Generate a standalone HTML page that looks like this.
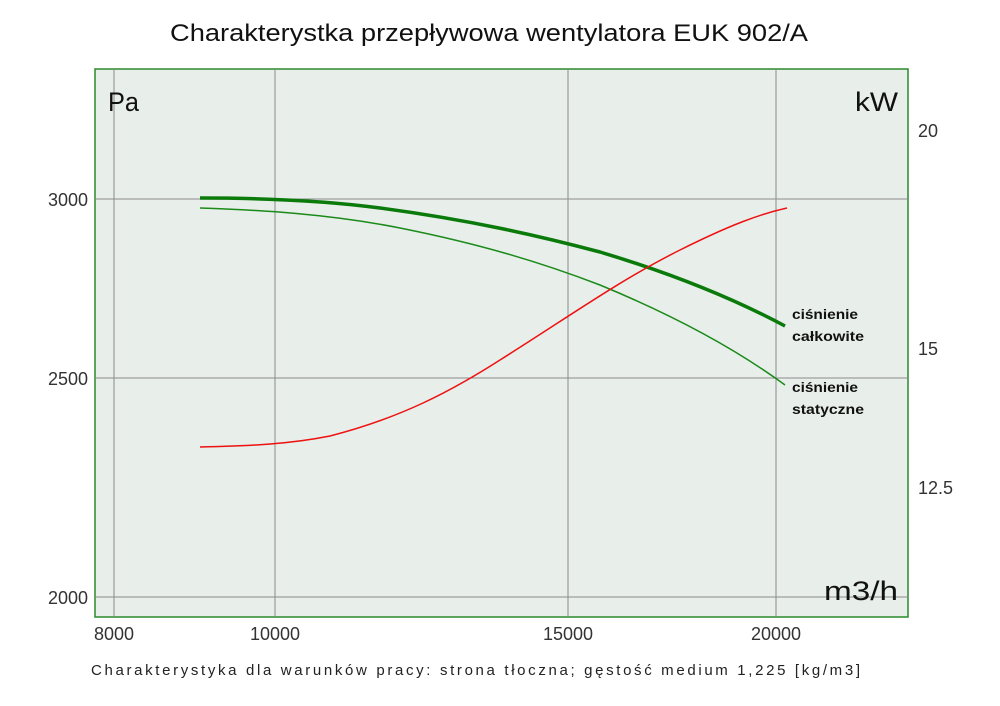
<!DOCTYPE html>
<html><head><meta charset="utf-8"><style>
body{margin:0;background:#fff;}
svg{display:block;font-family:"Liberation Sans",sans-serif;}
</style></head><body>
<svg width="1000" height="706" viewBox="0 0 1000 706" xmlns="http://www.w3.org/2000/svg">
<text x="170" y="41" font-size="24" textLength="638" lengthAdjust="spacingAndGlyphs" fill="#111">Charakterystka przepływowa wentylatora EUK 902/A</text>
<rect x="95" y="69" width="813" height="548" fill="#e8eee9" stroke="#2a8a2a" stroke-width="1.5"/>
<g stroke="#8a8a8a" stroke-width="1">
<line x1="114" y1="69" x2="114" y2="617"/>
<line x1="275" y1="69" x2="275" y2="617"/>
<line x1="568" y1="69" x2="568" y2="617"/>
<line x1="776" y1="69" x2="776" y2="617"/>
<line x1="95" y1="199" x2="908" y2="199"/>
<line x1="95" y1="378" x2="908" y2="378"/>
<line x1="95" y1="597" x2="908" y2="597"/>
</g>
<text x="108" y="111" font-size="27" textLength="31" lengthAdjust="spacingAndGlyphs" fill="#111">Pa</text>
<text x="855" y="111" font-size="27" textLength="43" lengthAdjust="spacingAndGlyphs" fill="#111">kW</text>
<text x="824" y="600" font-size="27" textLength="74" lengthAdjust="spacingAndGlyphs" fill="#111">m3/h</text>
<g font-size="18" fill="#333">
<text x="88" y="206" text-anchor="end">3000</text>
<text x="88" y="385" text-anchor="end">2500</text>
<text x="88" y="604" text-anchor="end">2000</text>
<text x="918" y="137">20</text>
<text x="918" y="355">15</text>
<text x="918" y="494">12.5</text>
<text x="114" y="640" text-anchor="middle">8000</text>
<text x="275" y="640" text-anchor="middle">10000</text>
<text x="568" y="640" text-anchor="middle">15000</text>
<text x="776" y="640" text-anchor="middle">20000</text>
</g>
<path d="M200,198 C250,198 320,200 380,208 C470,220 540,236 600,252 C680,276 740,302 785,326" fill="none" stroke="#0a7a0a" stroke-width="3.5"/>
<path d="M200,208 C260,210 330,214 400,228 C480,244 540,262 600,285 C680,318 740,352 785,385" fill="none" stroke="#1a8a1a" stroke-width="1.5"/>
<path d="M200,447 C250,446 290,444 330,436 C400,418 450,392 500,360 C570,316 620,280 680,250 C730,225 760,214 787,208" fill="none" stroke="#ee1111" stroke-width="1.5"/>
<g font-size="14" font-weight="bold" fill="#111">
<text x="792" y="319" textLength="66" lengthAdjust="spacingAndGlyphs">ciśnienie</text>
<text x="792" y="341" textLength="72" lengthAdjust="spacingAndGlyphs">całkowite</text>
<text x="792" y="392" textLength="66" lengthAdjust="spacingAndGlyphs">ciśnienie</text>
<text x="792" y="414" textLength="72" lengthAdjust="spacingAndGlyphs">statyczne</text>
</g>
<text x="91" y="675" font-size="15" fill="#222" textLength="769" lengthAdjust="spacing">Charakterystyka dla warunków pracy: strona tłoczna; gęstość medium 1,225 [kg/m3]</text>
</svg>
</body></html>
